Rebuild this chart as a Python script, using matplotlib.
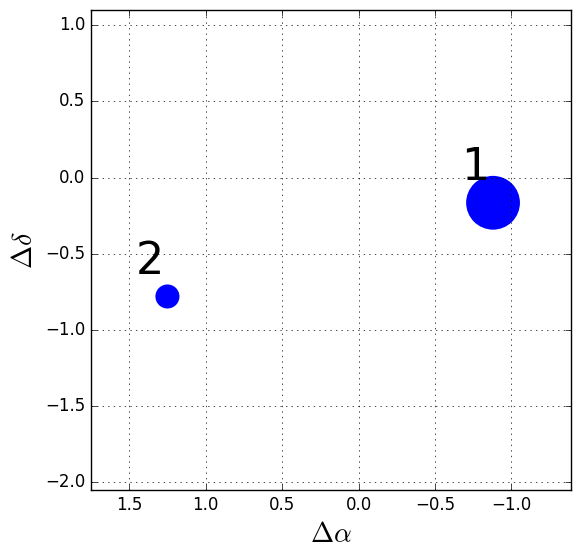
import matplotlib
matplotlib.use("Agg")
import matplotlib.pyplot as plt

plt.style.use('classic')

# offsets of the two sources
dalpha = [-0.88, 1.25]
ddelta = [-0.165, -0.78]
sizes = [1500, 300]
labels = ['1', '2']

fig = plt.figure(figsize=(5.8, 5.58), dpi=100)
ax = fig.add_axes([91/580, 68/558, 480/580, 480/558])

ax.scatter(dalpha, ddelta, s=sizes, c='b', edgecolors='none')
for x, y, lab in zip(dalpha, ddelta, labels):
    ax.text(x + 0.21, y + 0.15, lab, fontsize=32, ha='left', va='baseline')

ax.set_xlim(1.75, -1.39)
ax.set_ylim(-2.05, 1.1)
ax.set_xticks([1.5, 1.0, 0.5, 0.0, -0.5, -1.0])
ax.set_yticks([1.0, 0.5, 0.0, -0.5, -1.0, -1.5, -2.0])
ax.grid(True)
ax.set_xlabel(r'$\Delta\alpha$', fontsize=20)
ax.set_ylabel(r'$\Delta\delta$', fontsize=20)

fig.savefig('out.png', dpi=100)
